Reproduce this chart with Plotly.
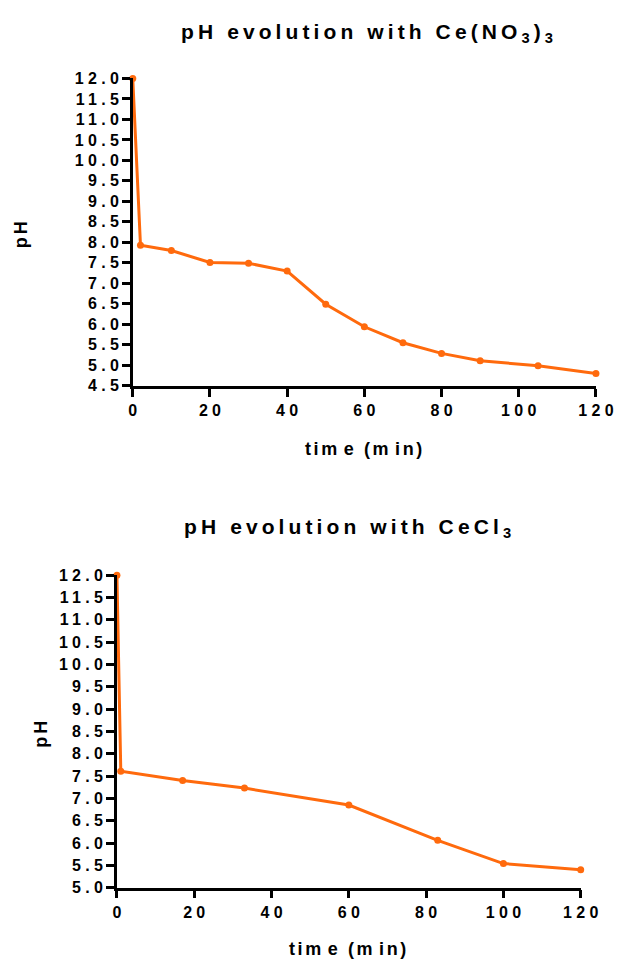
import plotly.graph_objects as go

# ---- data ----
time_no3 = [0, 2, 10, 20, 30, 40, 50, 60, 70, 80, 90, 105, 120]
ph_no3 = [12.0, 7.93, 7.80, 7.51, 7.49, 7.30, 6.49, 5.94, 5.55, 5.29, 5.11, 4.99, 4.80]

time_cl = [0, 1, 17, 33, 60, 83, 100, 120]
ph_cl = [12.0, 7.61, 7.40, 7.23, 6.85, 6.06, 5.54, 5.40]

x_ticks = [0, 20, 40, 60, 80, 100, 120]
y_ticks_top = [4.5 + 0.5 * i for i in range(16)]
y_ticks_bot = [5.0 + 0.5 * i for i in range(15)]

ORANGE = "#FF6A0D"
FONT = "Liberation Sans, Arial, sans-serif"
W, H = 632, 972


def sp(t, ls):
    return f"<span style='letter-spacing:{ls}px'>{t}</span>"


def spaced(s, ls):
    if len(s) <= 1:
        return f"<b>{s}</b>"
    return f"<b>{sp(s[:-1], ls)}{s[-1]}</b>"


def px_x(v):
    return v / W


def px_y(v):
    return 1 - v / H


LS_T = 4.1
title_top = (f"<b>{sp('pH evolution with Ce(NO', LS_T)}{sp('<sub>3</sub>', LS_T)}"
             f"{sp(')', LS_T)}<sub>3</sub></b>")
title_bot = f"<b>{sp('pH evolution with CeCl', LS_T)}<sub>3</sub></b>"
x_title = (f"<b>{sp('ti', 2.6)}{sp('m', 6.5)}{sp('e (', 2.6)}{sp('m', 6.5)}{sp('in', 2.6)})</b>")
y_title = f"<b>{sp('p', 3)}H</b>"

fig = go.Figure()
fig.add_trace(go.Scatter(x=time_no3, y=ph_no3, mode="lines+markers", xaxis="x", yaxis="y",
                         line=dict(color=ORANGE, width=3), marker=dict(color=ORANGE, size=7),
                         cliponaxis=False, showlegend=False))
fig.add_trace(go.Scatter(x=time_cl, y=ph_cl, mode="lines+markers", xaxis="x2", yaxis="y2",
                         line=dict(color=ORANGE, width=3), marker=dict(color=ORANGE, size=7),
                         cliponaxis=False, showlegend=False))

tickfont = dict(family=FONT, size=16, color="black")
axis_common = dict(showgrid=False, zeroline=False, showline=True, linecolor="black", linewidth=2.5,
                   ticks="outside", ticklen=8, tickwidth=2.5, tickcolor="black", tickfont=tickfont,
                   fixedrange=True)

fig.update_layout(
    width=W, height=H, autosize=False,
    margin=dict(l=0, r=0, t=0, b=0),
    paper_bgcolor="white", plot_bgcolor="white",
    font=dict(family=FONT, color="black"),
    xaxis=dict(domain=[px_x(133.4), px_x(613.3)], range=[0, 120], anchor="y",
               tickvals=x_ticks, ticktext=[spaced(str(v), 4.3) for v in x_ticks], **axis_common),
    yaxis=dict(domain=[px_y(384.5), px_y(71.7)], range=[4.5, 12], anchor="x",
               tickvals=y_ticks_top, ticktext=[spaced(f"{v:.1f}", 4.3) for v in y_ticks_top], **axis_common),
    xaxis2=dict(domain=[px_x(117), px_x(597.5)], range=[0, 120], anchor="y2",
                tickvals=x_ticks, ticktext=[spaced(str(v), 4.3) for v in x_ticks], **axis_common),
    yaxis2=dict(domain=[px_y(895.3), px_y(577.3)], range=[5, 12], anchor="x2",
                tickvals=y_ticks_bot, ticktext=[spaced(f"{v:.1f}", 4.3) for v in y_ticks_bot], **axis_common),
)

ann = []
def add_text(text, x, y, size, angle=0):
    ann.append(dict(text=text, x=px_x(x), y=px_y(y), xref="paper", yref="paper",
                    showarrow=False, xanchor="center", yanchor="middle", textangle=angle,
                    font=dict(family=FONT, size=size, color="black")))

add_text(title_top, 376, 25, 21)
add_text(title_bot, 356, 529, 21)
add_text(x_title, 372, 449, 18)
add_text(x_title, 356, 958, 18)
add_text(y_title, 18, 231, 18, -90)
add_text(y_title, 38, 739, 18, -90)
fig.update_layout(annotations=ann)

fig.write_html("out.html", config={"displayModeBar": False, "responsive": False},
               post_script="document.body.style.margin='0px';document.body.style.overflow='hidden';")
